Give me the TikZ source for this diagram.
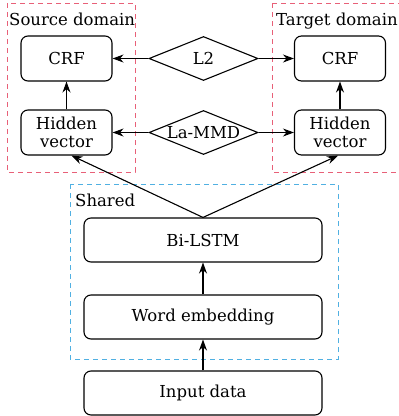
\documentclass[tikz,border=0pt]{standalone}
\usepackage{fontspec}
\setmainfont{DejaVu Serif}
\usetikzlibrary{shapes.geometric,arrows.meta}
\definecolor{redd}{RGB}{232,96,120}
\definecolor{blued}{RGB}{80,176,226}
\tikzset{
  box/.style={draw,rounded corners=7pt,line width=1.1pt,inner sep=0pt,font=\fontsize{16.5}{18.5}\selectfont,align=center},
  dia/.style={draw,shape=diamond,line width=1.1pt,inner sep=0pt,minimum width=109pt,minimum height=44pt,font=\fontsize{16.5}{18}\selectfont},
  frame/.style={line width=1pt,dash pattern=on 5pt off 4pt},
  arr/.style={-{Stealth[length=11pt,width=8pt]},line width=1.1pt},
  lab/.style={font=\fontsize{16.5}{18}\selectfont,anchor=base west,inner sep=0pt}
}
\newcommand{\dtext}[1]{\smash{\raisebox{-0.36em}{\makebox[0pt]{#1}}}}
\begin{document}
\begin{tikzpicture}[x=1pt,y=-1pt]
\useasboundingbox (0,0) rectangle (399,416);
\draw[frame,redd] (7,3) rectangle (135,172);
\draw[frame,redd] (272,3) -- (402,3) (272,3) -- (272,172) -- (402,172);
\draw[frame,blued] (70,184) rectangle (338,359);
\node[lab] (tsrc) at (9,25) {Source domain};
\node[lab] (ttgt) at (276,25) {Target domain};
\node[lab] (tsh) at (75,206) {Shared};
\node[box,minimum width=91pt,minimum height=45pt] (scrf) at (66.5,58.5) {CRF};
\node[box,minimum width=91pt,minimum height=45pt] (shid) at (66.5,132.5) {Hidden\\vector};
\node[box,minimum width=91pt,minimum height=45pt] (tcrf) at (340,58.5) {CRF};
\node[box,minimum width=91pt,minimum height=45pt] (thid) at (340,132.5) {Hidden\\vector};
\node[dia] (l2) at (203.5,58.5) {\dtext{L2}};
\node[dia] (mmd) at (203.5,132.5) {\dtext{La-MMD}};
\node[box,minimum width=238pt,minimum height=44pt] (lstm) at (203,240) {Bi-LSTM};
\node[box,minimum width=238pt,minimum height=44pt] (emb) at (203,317) {Word embedding};
\node[box,minimum width=238pt,minimum height=44pt] (inp) at (203,393) {Input data};
\draw[arr] (l2.west) -- (scrf.east);
\draw[arr] (l2.east) -- (tcrf.west);
\draw[arr] (mmd.west) -- (shid.east);
\draw[arr] (mmd.east) -- (thid.west);
\draw[arr] (shid.north) -- (scrf.south);
\draw[arr] (thid.north) -- (tcrf.south);
\draw[arr] (lstm.north) -- ([xshift=5pt]shid.south);
\draw[arr] (lstm.north) -- ([xshift=-2pt]thid.south);
\draw[arr] (emb.north) -- (lstm.south);
\draw[arr] (inp.north) -- (emb.south);
\end{tikzpicture}
\end{document}
